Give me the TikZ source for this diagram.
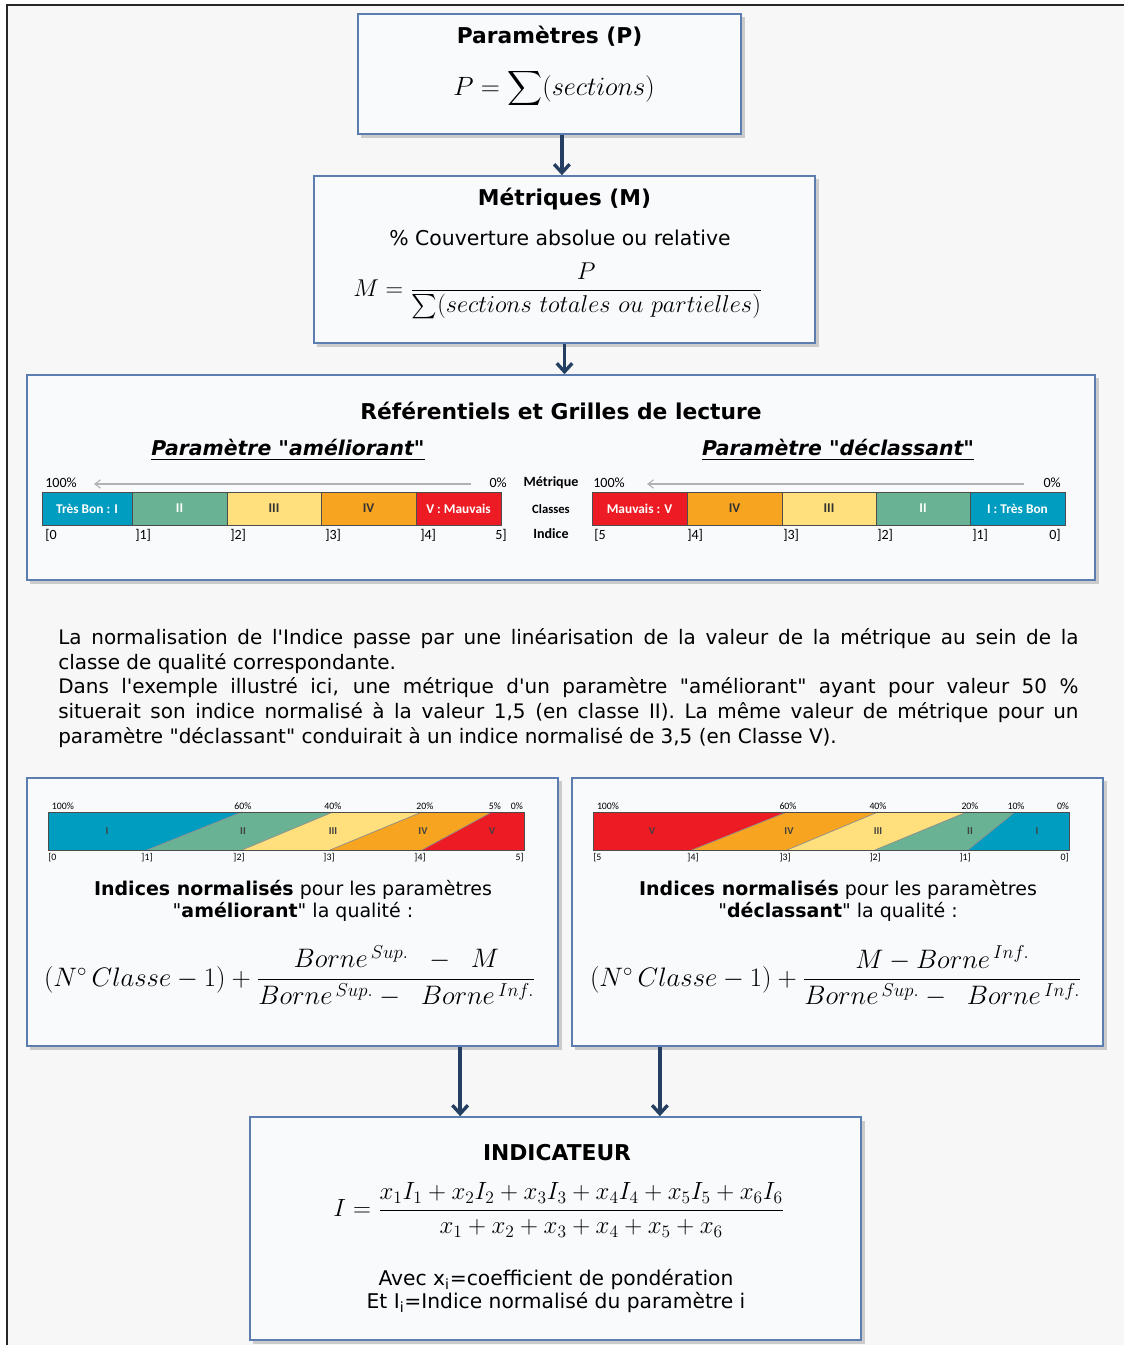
\RequirePackage{fix-cm}
\documentclass[tikz,border=0pt]{standalone}
\usepackage{amsmath}
\usepackage{fontspec}
\setmainfont{DejaVu Sans}
\newfontfamily\barfont{Carlito}
\usetikzlibrary{arrows.meta,shadows,positioning}

\definecolor{fond}{HTML}{F7F7F7}
\definecolor{cadre}{HTML}{5B7DB0}
\definecolor{boitefond}{HTML}{F9FAFC}
\definecolor{navy}{HTML}{243F62}
\definecolor{cbleu}{HTML}{009DC1}
\definecolor{cvert}{HTML}{69B394}
\definecolor{cjaune}{HTML}{FFE07C}
\definecolor{corange}{HTML}{F7A520}
\definecolor{crouge}{HTML}{ED1C24}

\newcommand{\gui}{\textquotedbl}
\newcommand{\apo}{\textquotesingle}

\tikzset{
  boite/.style={draw=cadre, line width=1.1pt, fill=boitefond, inner sep=0pt,
    drop shadow={shadow xshift=2.5pt, shadow yshift=-2.5pt, opacity=0.3, fill=black!60}},
  fleche/.style={draw=navy, line width=2.4pt, -{Straight Barb[length=6pt,width=11pt]}},
  titre/.style={font=\fontsize{15.5}{18}\selectfont\bfseries},
  texte/.style={font=\fontsize{14.5}{17}\selectfont},
  seg/.style={draw=black!70, line width=0.6pt, minimum height=0.825cm, inner sep=0pt,
    font=\fontsize{9.5}{10}\selectfont\barfont\bfseries},
  petit/.style={font=\fontsize{10}{11}\selectfont\barfont, inner sep=0pt},
  mini/.style={font=\fontsize{7}{8}\selectfont\barfont, inner sep=0pt}
}

\begin{document}
\begin{tikzpicture}[x=0.025cm,y=-0.025cm]
\useasboundingbox (0,0) rectangle (1124,1345);
\fill[white] (0,0) rectangle (1124,1345);
\fill[fond] (7,5) rectangle (1124,1345);
\draw[black!85, line width=1.4pt] (7,1345) -- (7,5) -- (1124,5);

% boites
\node[boite, minimum width=9.575cm, minimum height=3cm] (param) at (549.5,74) {};
\node[boite, minimum width=12.525cm, minimum height=4.175cm] (metr) at (564.5,259.5) {};
\node[boite, minimum width=26.7cm, minimum height=5.125cm] (ref) at (561,477.5) {};
\node[boite, minimum width=13.275cm, minimum height=6.7cm] (gauche) at (292.5,912) {};
\node[boite, minimum width=13.275cm, minimum height=6.7cm] (droite) at (837.5,912) {};
\node[boite, minimum width=15.275cm, minimum height=5.575cm] (indic) at (555.5,1228.5) {};

% fleches
\draw[fleche] ([xshift=0.31cm]param.south) -- ([xshift=0.31cm]param.south |- metr.north);
\draw[fleche] (metr.south) -- (metr.south |- ref.north);
\draw[fleche] ([xshift=4.19cm]gauche.south) -- ([xshift=4.19cm]gauche.south |- indic.north);
\draw[fleche] ([xshift=-4.44cm]droite.south) -- ([xshift=-4.44cm]droite.south |- indic.north);

% Parametres
\node[titre] (paramtitre) at (549.5,36) {Paramètres (P)};
\node[font=\fontsize{18.8}{22}\selectfont] (paramform) at (554,89) {$P = \displaystyle\sum(sections)$};

% Metriques
\node[titre] (metrtitre) at (564.5,199) {Métriques (M)};
\node[texte] (couv) at (560,238) {\% Couverture absolue ou relative};
\node[font=\fontsize{17.3}{20}\selectfont] (metrform) at (558,291)
  {$M = \dfrac{P}{\sum(sections\ totales\ ou\ partielles)}$};

% Referentiels
\node[titre] (reftitre) at (561,411) {Référentiels et Grilles de lecture};
\node[titre, font=\fontsize{14.5}{18}\selectfont\bfseries\itshape] (amel) at (288,450) {\underline{Paramètre \gui améliorant\gui}};
\node[titre, font=\fontsize{14.5}{18}\selectfont\bfseries\itshape] (decl) at (838,450) {\underline{Paramètre \gui déclassant\gui}};

\foreach \xa/\xb/\col/\lab/\tc [count=\i] in {42/132/cbleu/{Très Bon : I}/white, 132/227/cvert/II/white,
  227/321/cjaune/III/black!80, 321/416/corange/IV/black!80, 416/501/crouge/{V : Mauvais}/white}
  \node[seg, fill=\col, text=\tc, minimum width={(\xb-\xa)*0.025cm}] (ga\i) at ({(\xa+\xb)/2},508.5) {\lab};
\foreach \xa/\xb/\col/\lab/\tc [count=\i] in {592/687/crouge/{Mauvais : V}/white, 687/782/corange/IV/black!80,
  782/876/cjaune/III/black!80, 876/970/cvert/II/white, 970/1065/cbleu/{I : Très Bon}/white}
  \node[seg, fill=\col, text=\tc, minimum width={(\xb-\xa)*0.025cm}] (da\i) at ({(\xa+\xb)/2},508.5) {\lab};

\draw[black!30, line width=0.8pt, {Straight Barb[length=4pt,width=6pt]}-] (94,484) -- (471,484);
\draw[black!30, line width=0.8pt, {Straight Barb[length=4pt,width=6pt]}-] (647,484) -- (1024,484);
\node[petit, anchor=west] (gm1) at (45,483) {100\%};
\node[petit, anchor=east] (gm2) at (507,483) {0\%};
\node[petit, anchor=west] (dm1) at (593,483) {100\%};
\node[petit, anchor=east] (dm2) at (1061,483) {0\%};

\node[petit, font=\fontsize{10}{11}\selectfont\barfont\bfseries] (metrique) at (551,483) {Métrique};
\node[petit, font=\fontsize{9}{11}\selectfont\barfont\bfseries] (classes) at (551,509) {Classes};
\node[petit, font=\fontsize{10}{11}\selectfont\barfont\bfseries] (indice) at (551,534) {Indice};

\foreach \x/\lab [count=\i] in {45/{[0},135/{]1]},230/{]2]},325/{]3]},420/{]4]}}
  \node[petit, anchor=west] (gi\i) at (\x,535) {\lab};
\node[petit, anchor=east] (gi6) at (507,535) {5]};
\foreach \x/\lab [count=\i] in {594/{[5},687/{]4]},783/{]3]},877/{]2]},972/{]1]}}
  \node[petit, anchor=west] (di\i) at (\x,535) {\lab};
\node[petit, anchor=east] (di6) at (1061,535) {0]};

% paragraphe
\node[anchor=north west, inner sep=0pt, text width=25.5cm, align=justify,
  font=\fontsize{14.2}{17.6}\selectfont] (para) at (58,628)
  {La normalisation de l\apo Indice passe par une linéarisation de la valeur de la métrique au sein de la\linebreak
   classe de qualité correspondante.\par
   Dans l\apo exemple illustré ici, une métrique d\apo un paramètre \gui améliorant\gui{} ayant pour valeur 50~\%\linebreak
   situerait son indice normalisé à la valeur 1,5 (en classe II). La même valeur de métrique pour un\linebreak
   paramètre \gui déclassant\gui{} conduirait à un indice normalisé de 3,5 (en Classe V).};

% barre ameliorant
\foreach \ta/\tb/\ba/\bb/\col in {48/242/48/147/cbleu, 242/333/147/242/cvert, 333/422/242/330/cjaune,
  422/492/330/422/corange, 492/524/422/524/crouge}
  \fill[\col] (\ta,812) -- (\tb,812) -- (\bb,850) -- (\ba,850) -- cycle;
\foreach \tb/\bb in {242/147,333/242,422/330,492/422}
  \draw[black!45, line width=0.5pt] (\tb,812) -- (\bb,850);
\draw[black!70, line width=0.6pt] (48,812) rectangle (524,850);
\foreach \x/\lab [count=\i] in {107/I,243/II,333/III,423/IV,492/V}
  \node[mini, font=\fontsize{7.5}{8}\selectfont\barfont\bfseries, text=black!75] (gc\i) at (\x,831) {\lab};
\foreach \x/\lab [count=\i] in {63/100,243/60,333/40,425/20,495/5,517/0}
  \node[mini] (gp\i) at (\x,806) {\lab\%};
\node[mini, anchor=west] (gn0) at (48,858) {[0};
\foreach \x/\lab [count=\i] in {147/{]1]},239/{]2]},329/{]3]},420/{]4]}}
  \node[mini] (gn\i) at (\x,858) {\lab};
\node[mini, anchor=east] (gn5) at (524,858) {5]};

% barre declassant
\foreach \ta/\tb/\ba/\bb/\col in {593/787/593/692/crouge, 787/878/692/787/corange, 878/967/787/875/cjaune,
  967/1015/875/968/cvert, 1015/1069/968/1069/cbleu}
  \fill[\col] (\ta,812) -- (\tb,812) -- (\bb,850) -- (\ba,850) -- cycle;
\foreach \tb/\bb in {787/692,878/787,967/875,1015/968}
  \draw[black!45, line width=0.5pt] (\tb,812) -- (\bb,850);
\draw[black!70, line width=0.6pt] (593,812) rectangle (1069,850);
\foreach \x/\lab [count=\i] in {652/V,789/IV,878/III,970/II,1037/I}
  \node[mini, font=\fontsize{7.5}{8}\selectfont\barfont\bfseries, text=black!75] (dc\i) at (\x,831) {\lab};
\foreach \x/\lab [count=\i] in {608/100,788/60,878/40,970/20,1016/10,1063/0}
  \node[mini] (dp\i) at (\x,806) {\lab\%};
\node[mini, anchor=west] (dn0) at (593,858) {[5};
\foreach \x/\lab [count=\i] in {693/{]4]},785/{]3]},875/{]2]},965/{]1]}}
  \node[mini] (dn\i) at (\x,858) {\lab};
\node[mini, anchor=east] (dn5) at (1069,858) {0]};

% indices normalises
\node[align=center, font=\fontsize{13.5}{15.6}\selectfont] (gtexte) at (293,901)
  {\textbf{Indices normalisés} pour les paramètres\\\gui\textbf{améliorant}\gui{} la qualité :};
\node[font=\fontsize{19}{22}\selectfont] (gform) at (290,976)
  {$(N^{\circ}\,Classe - 1) + \dfrac{Borne^{\,Sup.}\;\; - \;\; M}{Borne^{\,Sup.} - \;\; Borne^{\,Inf.}}$};
\node[align=center, font=\fontsize{13.5}{15.6}\selectfont] (dtexte) at (838,901)
  {\textbf{Indices normalisés} pour les paramètres\\\gui\textbf{déclassant}\gui{} la qualité :};
\node[font=\fontsize{19}{22}\selectfont] (dform) at (836,976)
  {$(N^{\circ}\,Classe - 1) + \dfrac{M - Borne^{\,Inf.}}{Borne^{\,Sup.} - \;\; Borne^{\,Inf.}}$};

% indicateur
\node[titre] (indtitre) at (557,1153) {INDICATEUR};
\node[font=\fontsize{17.7}{21}\selectfont] (indform) at (559,1210)
  {$I = \dfrac{x_1I_1 + x_2I_2 + x_3I_3 + x_4I_4 + x_5I_5 + x_6I_6}{x_1 + x_2 + x_3 + x_4 + x_5 + x_6}$};
\node[align=center, font=\fontsize{14.4}{16.4}\selectfont] (avec) at (556,1291)
  {Avec x\textsubscript{i}=coefficient de pondération\\Et I\textsubscript{i}=Indice normalisé du paramètre i};
\end{tikzpicture}
\end{document}
